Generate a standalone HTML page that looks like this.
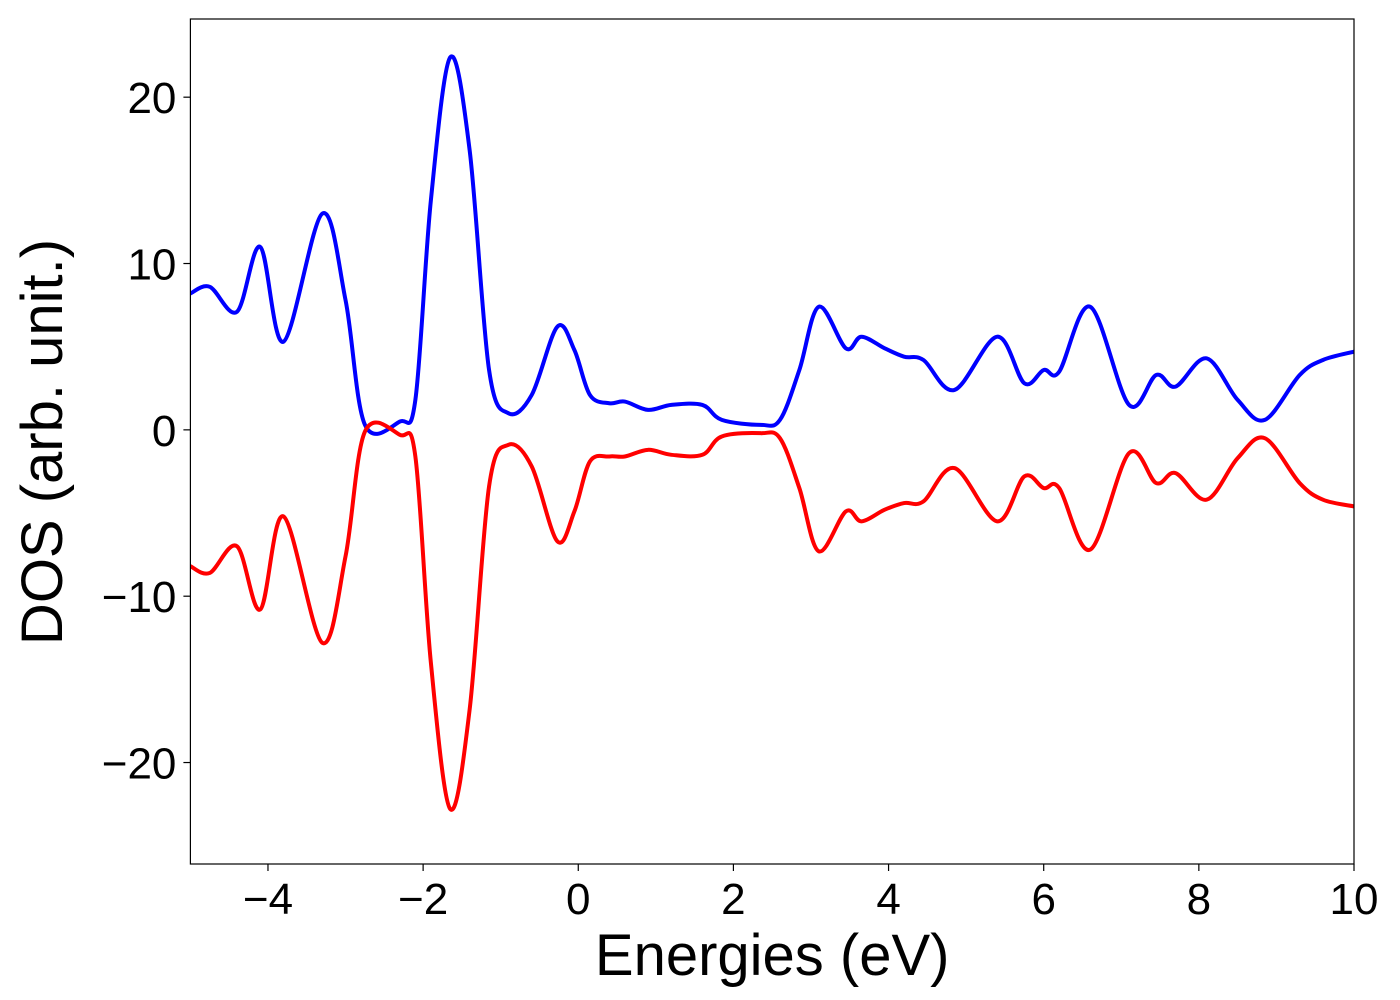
<!DOCTYPE html>
<html><head><meta charset="utf-8"><style>
body{margin:0;background:#fff;}
svg{display:block;font-family:"Liberation Sans","DejaVu Sans",sans-serif;}
</style></head><body>
<svg width="1400" height="1000" viewBox="0 0 1400 1000" id="chart">
<rect x="0" y="0" width="1400" height="1000" fill="#fff"/>
<g id="plot"></g>
</svg>
<script>
const energies = [-5,-4.75,-4.4,-4.1,-3.8,-3.3,-3.0,-2.75,-2.3,-2.1,-1.9,-1.65,-1.4,-1.15,-0.9,-0.6,-0.27,-0.05,0.15,0.4,0.6,0.9,1.2,1.6,1.85,2.35,2.6,2.85,3.1,3.45,3.65,3.95,4.2,4.45,4.85,5.4,5.75,6.0,6.2,6.6,7.1,7.45,7.7,8.1,8.5,8.85,9.3,9.6,10];
const dosUp = [8.2,8.6,7.1,11.0,5.3,13.0,7.8,0.3,0.5,1.8,13.8,22.4,16.8,3.6,1.0,2.1,6.2,4.8,2.1,1.6,1.7,1.2,1.5,1.5,0.6,0.3,0.6,3.6,7.4,4.9,5.6,4.9,4.4,4.2,2.4,5.6,2.8,3.6,3.5,7.4,1.5,3.3,2.6,4.3,1.8,0.6,3.3,4.2,4.7];
const dosDown = [-8.2,-8.6,-7.0,-10.8,-5.2,-12.8,-7.6,-0.1,-0.3,-1.6,-14.0,-22.8,-16.8,-3.4,-0.9,-2.2,-6.7,-4.9,-1.9,-1.6,-1.6,-1.2,-1.5,-1.5,-0.4,-0.2,-0.5,-3.5,-7.3,-4.9,-5.5,-4.8,-4.4,-4.3,-2.3,-5.5,-2.8,-3.5,-3.5,-7.2,-1.4,-3.2,-2.6,-4.2,-1.7,-0.5,-3.2,-4.2,-4.6];
const xTicks = [-4,-2,0,2,4,6,8,10];
const yTicks = [-20,-10,0,10,20];

const L=190.4,R=1354,T=19,B=864;
const xMin=-5,xMax=10,yMin=-26.1,yMax=24.7;
const X=v=>L+(v-xMin)/(xMax-xMin)*(R-L);
const Y=v=>B-(v-yMin)/(yMax-yMin)*(B-T);
const NS="http://www.w3.org/2000/svg";
const g=document.getElementById('plot');
function mk(t,a){const e=document.createElementNS(NS,t);for(const k in a)e.setAttribute(k,a[k]);g.appendChild(e);return e;}
function fmt(v){return v<0?'\u2212'+Math.abs(v):String(v);}
function pathFor(xs,ys){
  const p=xs.map((x,i)=>[X(x),Y(ys[i])]);
  let d='M'+p[0][0]+','+p[0][1];
  for(let i=0;i<p.length-1;i++){
    const p0=p[Math.max(0,i-1)],p1=p[i],p2=p[i+1],p3=p[Math.min(p.length-1,i+2)];
    const c1=[p1[0]+(p2[0]-p0[0])/6,p1[1]+(p2[1]-p0[1])/6];
    const c2=[p2[0]-(p3[0]-p1[0])/6,p2[1]-(p3[1]-p1[1])/6];
    d+=' C'+c1[0]+','+c1[1]+' '+c2[0]+','+c2[1]+' '+p2[0]+','+p2[1];
  }
  return d;
}
const clip=document.createElementNS(NS,'clipPath');clip.setAttribute('id','cp');
const cr=document.createElementNS(NS,'rect');cr.setAttribute('x',L);cr.setAttribute('y',T);cr.setAttribute('width',R-L);cr.setAttribute('height',B-T);
clip.appendChild(cr);g.appendChild(clip);

let up=mk('path',{d:pathFor(energies,dosUp),fill:'none',stroke:'#0000ff','stroke-width':4,'clip-path':'url(#cp)'});


let dn=mk('path',{d:pathFor(energies,dosDown),fill:'none',stroke:'#ff0000','stroke-width':4,'clip-path':'url(#cp)'});



let fr=mk('rect',{x:L,y:T,width:R-L,height:B-T,fill:'none',stroke:'#000','stroke-width':1.2});



xTicks.forEach(v=>{
  let t=mk('line',{x1:X(v),x2:X(v),y1:B,y2:B+7,stroke:'#000','stroke-width':1.2});
  
  
  let s=mk('text',{x:X(v),y:B+50,'font-size':44,'text-anchor':'middle',fill:'#000'});
  s.textContent=fmt(v);
  
  
});
yTicks.forEach(v=>{
  let t=mk('line',{x1:L-7,x2:L,y1:Y(v),y2:Y(v),stroke:'#000','stroke-width':1.2});
  
  
  let s=mk('text',{x:L-14,y:Y(v)+16,'font-size':44,'text-anchor':'end',fill:'#000'});
  s.textContent=fmt(v);
  
  
});
let xt=mk('text',{x:(L+R)/2,y:975,'font-size':58,'text-anchor':'middle',fill:'#000'});
xt.textContent='Energies (eV)';


let yt=mk('text',{x:0,y:0,'font-size':58,'text-anchor':'middle',fill:'#000',transform:'translate(62,442) rotate(-90)'});
yt.textContent='DOS (arb. unit.)';


</script>
</body></html>
